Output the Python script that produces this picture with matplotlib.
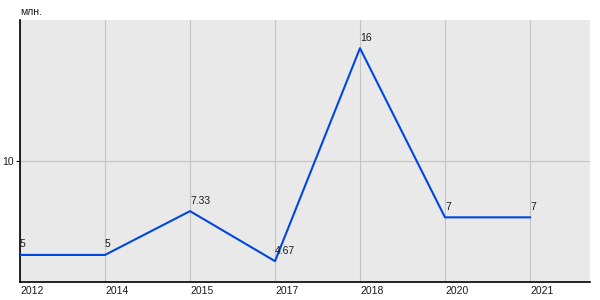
import numpy as np
import matplotlib
matplotlib.use('Agg')
import matplotlib.pyplot as plt

plt.rcParams['font.family'] = ['Liberation Sans', 'DejaVu Sans']

years = ['2012', '2014', '2015', '2017', '2018', '2020', '2021']
values = [5, 5, 7.33, 4.67, 16, 7, 7]
value_labels = ['5', '5', '7.33', '4.67', '16', '7', '7']

fig = plt.figure(figsize=(6, 3), dpi=100)
ax = fig.add_axes([20/600, 18/300, 570/600, 262/300])
ax.set_facecolor('#e9e9e9')

x = np.arange(len(years))
ax.plot(x, values, color='#0047e0', linewidth=1.5, zorder=3)
for xi, v, lab in zip(x, values, value_labels):
    ax.annotate(lab, (xi, v), xytext=(0, 4), textcoords='offset points',
                ha='left', va='bottom', fontsize=7.5, color='#1a1a1a', zorder=4)

ax.set_xlim(0, 6.706)
ax.set_ylim(3.56, 17.5)
ax.set_xticks(x)
ax.set_xticklabels(years, ha='left', fontsize=7.5, color='#1a1a1a')
ax.set_yticks([10])
ax.set_yticklabels(['10'], fontsize=7.5, color='#1a1a1a')
ax.tick_params(axis='x', length=0, pad=3)
ax.tick_params(axis='y', length=3, width=0.8, pad=1.5)
ax.grid(True, color='#c4c4c4', linewidth=0.8, zorder=0)
ax.set_axisbelow(True)
for s in ['top', 'right']:
    ax.spines[s].set_visible(False)
for s in ['left', 'bottom']:
    ax.spines[s].set_color('black')
    ax.spines[s].set_linewidth(1.2)

fig.text(20/600, 1 - 12/300, 'млн.', fontsize=7.5, color='#1a1a1a', va='center', ha='left')

fig.savefig('out.png', dpi=100)
